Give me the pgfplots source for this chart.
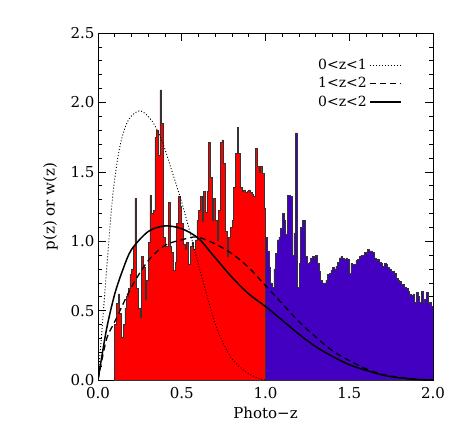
\documentclass[border=0pt]{standalone}
\usepackage{fontspec}
\setmainfont{DejaVu Serif}
\usepackage{pgfplots}
\pgfplotsset{compat=1.18}
\definecolor{histblue}{RGB}{68,0,192}

\begin{document}
\begin{tikzpicture}
\path[use as bounding box] (0pt,0pt) rectangle (463pt,442pt);
\begin{axis}[
	at={(98pt,62pt)}, anchor=south west,
	scale only axis, width=335pt, height=347pt,
	xmin=0, xmax=2, ymin=0, ymax=2.5,
	xtick={0,0.5,1,1.5,2}, ytick={0,0.5,1,1.5,2,2.5},
	minor tick num=4,
	major tick length=8pt, minor tick length=4pt,
	tick style={black, line width=0.6pt},
	axis line style={line width=0.8pt},
	tick align=inside,
	font=\fontsize{15}{17}\selectfont,
	/pgf/number format/assume math mode=true,
	/pgf/number format/fixed, /pgf/number format/fixed zerofill,
	/pgf/number format/precision=1,
	xlabel={Photo−z}, ylabel={p(z) or w(z)},
	xticklabel style={yshift=-4pt},
	xlabel style={yshift=-1pt},
	ylabel style={yshift=6pt},
	legend style={at={(0.915,0.937)}, anchor=north east, draw=none, fill=none,
		legend plot pos=right, legend cell align=left, row sep=2.5pt,
		font=\fontsize{14}{16}\selectfont},
	legend image code/.code={\draw[#1] (5pt,0pt) -- (36pt,0pt);},
]
% histogram 0.1 < z < 1.0 (bin width 0.01)
\addplot[const plot, fill=red, draw=black!80, line width=0.6pt, forget plot] coordinates {
(0.10,0.40) (0.11,0.55) (0.12,0.62) (0.13,0.48) (0.14,0.31) (0.15,0.40) (0.16,0.52) (0.17,0.60) (0.18,0.66) (0.19,0.76)
(0.20,0.80) (0.21,0.96) (0.22,1.31) (0.23,0.66) (0.24,0.52) (0.25,0.45) (0.26,0.89) (0.27,0.81) (0.28,0.58) (0.29,0.72)
(0.30,0.99) (0.31,1.33) (0.32,1.20) (0.33,1.22) (0.34,1.75) (0.35,1.80) (0.36,1.62) (0.37,2.09) (0.38,1.85) (0.39,1.03)
(0.40,0.96) (0.41,0.96) (0.42,1.28) (0.43,0.96) (0.44,0.92) (0.45,0.79) (0.46,0.85) (0.47,1.13) (0.48,1.32) (0.49,1.25)
(0.50,1.13) (0.51,0.98) (0.52,0.94) (0.53,0.99) (0.54,0.83) (0.55,0.96) (0.56,0.99) (0.57,0.94) (0.58,1.01) (0.59,1.15)
(0.60,1.22) (0.61,1.32) (0.62,1.14) (0.63,1.36) (0.64,1.21) (0.65,1.36) (0.66,1.71) (0.67,1.46) (0.68,1.15) (0.69,1.31)
(0.70,1.15) (0.71,1.01) (0.72,1.22) (0.73,1.71) (0.74,1.73) (0.75,1.56) (0.76,1.07) (0.77,0.89) (0.78,1.03) (0.79,1.10)
(0.80,1.15) (0.81,1.39) (0.82,1.63) (0.83,1.82) (0.84,1.63) (0.85,1.39) (0.86,1.36) (0.87,1.37) (0.88,1.35) (0.89,1.36)
(0.90,1.37) (0.91,1.35) (0.92,1.34) (0.93,1.32) (0.94,1.67) (0.95,1.54) (0.96,1.50) (0.97,1.54) (0.98,1.49) (0.99,1.24)
(1.00,1.24)} \closedcycle;
% histogram 1.0 < z < 2.0
\addplot[const plot, fill=histblue, draw=black!80, line width=0.6pt, forget plot] coordinates {
(1.00,1.03) (1.01,0.93) (1.02,0.81) (1.03,0.70) (1.04,0.67) (1.05,0.80) (1.06,0.91) (1.07,1.01) (1.08,1.03) (1.09,1.09)
(1.10,1.20) (1.11,1.15) (1.12,1.05) (1.13,1.33) (1.14,1.33) (1.15,1.32) (1.16,0.90) (1.17,1.06) (1.18,1.78) (1.19,0.67)
(1.20,0.84) (1.21,1.10) (1.22,1.15) (1.23,1.15) (1.24,0.89) (1.25,0.84) (1.26,0.85) (1.27,0.88) (1.28,0.89) (1.29,0.88)
(1.30,0.90) (1.31,0.84) (1.32,0.78) (1.33,0.72) (1.34,0.70) (1.35,0.70) (1.36,0.72) (1.37,0.76) (1.38,0.77) (1.39,0.79)
(1.40,0.81) (1.41,0.80) (1.42,0.82) (1.43,0.85) (1.44,0.88) (1.45,0.89) (1.46,0.88) (1.47,0.87) (1.48,0.88) (1.49,0.87)
(1.50,0.77) (1.51,0.84) (1.52,0.83) (1.53,0.83) (1.54,0.86) (1.55,0.87) (1.56,0.89) (1.57,0.90) (1.58,0.90) (1.59,0.92)
(1.60,0.91) (1.61,0.94) (1.62,0.93) (1.63,0.93) (1.64,0.92) (1.65,0.88) (1.66,0.86) (1.67,0.87) (1.68,0.85) (1.69,0.84)
(1.70,0.82) (1.71,0.84) (1.72,0.83) (1.73,0.81) (1.74,0.80) (1.75,0.78) (1.76,0.78) (1.77,0.77) (1.78,0.73) (1.79,0.72)
(1.80,0.71) (1.81,0.69) (1.82,0.69) (1.83,0.67) (1.84,0.66) (1.85,0.64) (1.86,0.62) (1.87,0.61) (1.88,0.62) (1.89,0.56)
(1.90,0.63) (1.91,0.60) (1.92,0.56) (1.93,0.64) (1.94,0.56) (1.95,0.58) (1.96,0.63) (1.97,0.55) (1.98,0.56) (1.99,0.53)
(2.00,0.53)} \closedcycle;
% selection functions
\addplot[smooth, black, line width=0.9pt, dash pattern=on 1pt off 2pt] coordinates {
(0,0) (0.03,0.46) (0.06,0.93) (0.09,1.35) (0.13,1.68) (0.18,1.87) (0.25,1.94) (0.32,1.87) (0.38,1.73)
(0.44,1.51) (0.50,1.28) (0.55,1.06) (0.60,0.83) (0.65,0.61) (0.71,0.37) (0.79,0.17) (0.87,0.07) (0.94,0.02) (1.0,0)};
\addplot[smooth, black, line width=1.3pt, dash pattern=on 6pt off 4pt] coordinates {
(0,0) (0.05,0.29) (0.1,0.42) (0.2,0.67) (0.3,0.86) (0.4,0.97) (0.5,1.01) (0.59,1.03) (0.7,0.98) (0.8,0.91)
(0.9,0.81) (1.0,0.68) (1.1,0.55) (1.2,0.42) (1.3,0.31) (1.4,0.21) (1.5,0.14) (1.6,0.08) (1.7,0.04) (1.8,0.02) (1.9,0.005) (2.0,0)};
\addplot[smooth, black, line width=1.5pt] coordinates {
(0,0) (0.05,0.36) (0.1,0.62) (0.15,0.80) (0.2,0.94) (0.3,1.07) (0.4,1.11) (0.5,1.09) (0.6,1.02) (0.7,0.88)
(0.8,0.74) (0.9,0.62) (1.0,0.53) (1.1,0.43) (1.2,0.33) (1.3,0.24) (1.4,0.17) (1.5,0.11) (1.6,0.07) (1.7,0.035) (1.8,0.015) (1.9,0.004) (2.0,0)};
\legend{0<z<1, 1<z<2, 0<z<2}
\end{axis}
\end{tikzpicture}
\end{document}
